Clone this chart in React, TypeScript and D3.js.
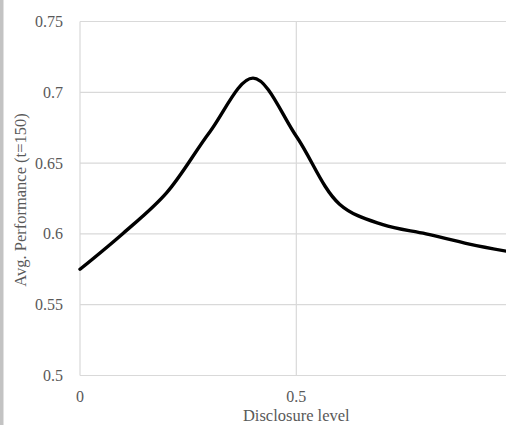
import React from "react";
import * as d3 from "d3";

const disclosure = [0, 0.1, 0.2, 0.3, 0.4, 0.5, 0.6, 0.7, 0.8, 0.9, 1.0];
const performance = [0.575, 0.6005, 0.629, 0.672, 0.710, 0.669, 0.621, 0.6065, 0.6, 0.5928, 0.587];
const yTicks = [0.5, 0.55, 0.6, 0.65, 0.7, 0.75];
const xTicks = [0, 0.5];
const xTitle = "Disclosure level";
const yTitle = "Avg. Performance (t=150)";

const W = 506;
const H = 425;

export default function App() {
  const x = d3.scaleLinear().domain([0, 1]).range([80, 512.6]);
  const y = d3.scaleLinear().domain([0.5, 0.75]).range([375.5, 21.5]);
  const pts: [number, number][] = disclosure.map((d, i) => [d, performance[i]]);
  const line = d3
    .line<[number, number]>()
    .x((d) => x(d[0]))
    .y((d) => y(d[1]))
    .curve(d3.curveCatmullRom.alpha(0.5));
  const font = "'Liberation Serif', 'Times New Roman', serif";
  const grid = "#d9d9d9";
  const textCol = "#595959";
  return (
    <svg
      width={W}
      height={H}
      style={{ position: "absolute", left: 0, top: 0, background: "#fff" }}
    >
      <defs>
        <clipPath id="plotclip">
          <rect x={0} y={0} width={W} height={H} />
        </clipPath>
      </defs>
      <rect x={0} y={0} width={W} height={H} fill="#fff" />
      <rect x={0} y={0} width={3.5} height={H} fill="#c3c3c3" />
      {yTicks.map((t) => (
        <line
          key={"gy" + t}
          x1={x(0)}
          x2={W}
          y1={y(t)}
          y2={y(t)}
          stroke={grid}
          strokeWidth={1.2}
        />
      ))}
      {xTicks.map((t) => (
        <line
          key={"gx" + t}
          x1={x(t)}
          x2={x(t)}
          y1={y(0.75)}
          y2={y(0.5)}
          stroke={grid}
          strokeWidth={1.2}
        />
      ))}
      <g clipPath="url(#plotclip)">
        <path
          d={line(pts) || ""}
          fill="none"
          stroke="#000"
          strokeWidth={3.4}
          strokeLinecap="round"
        />
      </g>
      {yTicks.map((t) => (
        <text
          key={"ty" + t}
          x={63}
          y={y(t)}
          textAnchor="end"
          dominantBaseline="central"
          fontFamily={font}
          fontSize={16}
          fill={textCol}
        >
          {String(t)}
        </text>
      ))}
      {xTicks.map((t) => (
        <text
          key={"tx" + t}
          x={x(t)}
          y={396}
          textAnchor="middle"
          dominantBaseline="central"
          fontFamily={font}
          fontSize={16}
          fill={textCol}
        >
          {String(t)}
        </text>
      ))}
      <text
        x={x(0.5)}
        y={415.5}
        textAnchor="middle"
        dominantBaseline="central"
        fontFamily={font}
        fontSize={16.5}
        fill={textCol}
      >
        {xTitle}
      </text>
      <text
        transform={`translate(20,200) rotate(-90)`}
        textAnchor="middle"
        dominantBaseline="central"
        fontFamily={font}
        fontSize={16.5}
        fill={textCol}
      >
        {yTitle}
      </text>
    </svg>
  );
}
